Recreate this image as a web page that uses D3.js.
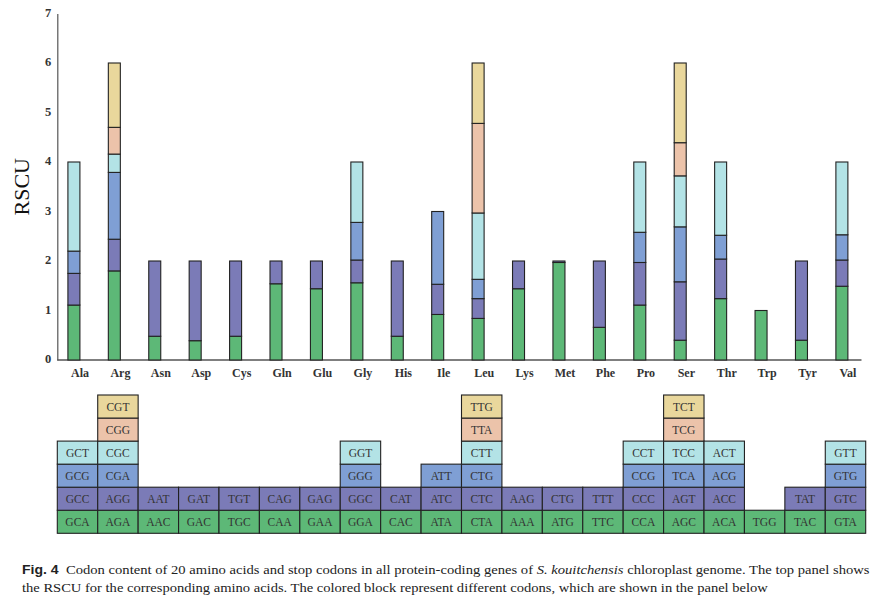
<!DOCTYPE html>
<html>
<head>
<meta charset="utf-8">
<script src="https://cdn.jsdelivr.net/npm/d3@7"></script>
<style>
  html, body { margin: 0; padding: 0; background: #fff; }
  svg { display: block; }
</style>
</head>
<body>
<svg id="chart" width="879" height="603"></svg>
<script>
// ---------- DATA ----------
const aminoAcids = ["Ala","Arg","Asn","Asp","Cys","Gln","Glu","Gly","His","Ile",
                    "Leu","Lys","Met","Phe","Pro","Ser","Thr","Trp","Tyr","Val"];

// codons per amino acid, stacked from the bottom up
const codons = [
  ["GCA","GCC","GCG","GCT"],
  ["AGA","AGG","CGA","CGC","CGG","CGT"],
  ["AAC","AAT"],
  ["GAC","GAT"],
  ["TGC","TGT"],
  ["CAA","CAG"],
  ["GAA","GAG"],
  ["GGA","GGC","GGG","GGT"],
  ["CAC","CAT"],
  ["ATA","ATC","ATT"],
  ["CTA","CTC","CTG","CTT","TTA","TTG"],
  ["AAA","AAG"],
  ["ATG","CTG"],
  ["TTC","TTT"],
  ["CCA","CCC","CCG","CCT"],
  ["AGC","AGT","TCA","TCC","TCG","TCT"],
  ["ACA","ACC","ACG","ACT"],
  ["TGG"],
  ["TAC","TAT"],
  ["GTA","GTC","GTG","GTT"]
];

// RSCU values, same order as codons
const rscu = [
  [1.11,0.64,0.45,1.80],
  [1.80,0.64,1.35,0.37,0.54,1.30],
  [0.48,1.52],
  [0.39,1.61],
  [0.48,1.52],
  [1.54,0.46],
  [1.44,0.56],
  [1.56,0.46,0.76,1.22],
  [0.48,1.52],
  [0.92,0.61,1.47],
  [0.84,0.40,0.39,1.34,1.81,1.22],
  [1.44,0.56],
  [1.97,0.03],
  [0.66,1.34],
  [1.11,0.86,0.61,1.42],
  [0.40,1.18,1.11,1.03,0.67,1.61],
  [1.24,0.80,0.48,1.48],
  [1.00],
  [0.40,1.60],
  [1.49,0.53,0.51,1.47]
];

const yTicks = [0,1,2,3,4,5,6,7];
const stackColors = ["#5db877","#7b7bb7","#7f9fd4","#b3e3e6","#ecc3aa","#e9d79c"];

const captionBold = "Fig. 4";
const captionLine1a = "  Codon content of 20 amino acids and stop codons in all protein-coding genes of ";
const captionItalic = "S. kouitchensis";
const captionLine1b = " chloroplast genome. The top panel shows";
const captionLine2 = "the RSCU for the corresponding amino acids. The colored block represent different codons, which are shown in the panel below";

// ---------- LAYOUT ----------
const svg = d3.select("#chart");
const serif = "Liberation Serif, Times New Roman, DejaVu Serif, serif";

const x = d3.scaleBand().domain(aminoAcids).range([57.3, 865.7]).padding(0);
const y = d3.scaleLinear().domain([0, 7]).range([360, 13.5]);
const barW = 12;
const barShift = -3.6;   // bars sit slightly left of column centre
const labelShift = 2.5;  // labels slightly right

// stacked data
const segs = [];
aminoAcids.forEach((aa, i) => {
  let acc = 0;
  rscu[i].forEach((v, j) => {
    segs.push({aa, codon: codons[i][j], idx: j, y0: acc, y1: acc + v});
    acc += v;
  });
});

// ---------- TOP PANEL ----------
const yAxis = d3.axisLeft(y).tickValues(yTicks).tickFormat(d3.format("d"))
  .tickSize(0).tickPadding(6).tickSizeOuter(0);
const gy = svg.append("g").attr("transform", `translate(${x.range()[0]},0)`).call(yAxis)
  .attr("font-family", serif);
gy.select(".domain").attr("stroke", "#555").attr("stroke-width", 1.2);
gy.selectAll("text").attr("font-family", serif).attr("font-size", 12.5)
  .attr("font-weight", "bold").attr("fill", "#333").attr("dy", "0.2em");

// x axis line
const xEnd = x("Val") + x.bandwidth() / 2 + 16;
svg.append("line")
  .attr("x1", x.range()[0]).attr("x2", xEnd)
  .attr("y1", y(0)).attr("y2", y(0))
  .attr("stroke", "#555").attr("stroke-width", 1.4);

svg.append("g").selectAll("rect").data(segs).join("rect")
  .attr("x", d => x(d.aa) + x.bandwidth() / 2 + barShift - barW / 2)
  .attr("width", barW)
  .attr("y", d => y(d.y1))
  .attr("height", d => y(d.y0) - y(d.y1))
  .attr("fill", d => stackColors[d.idx])
  .attr("stroke", "#222")
  .attr("stroke-width", 1.1);

// x labels
svg.append("g").selectAll("text").data(aminoAcids).join("text")
  .attr("x", d => x(d) + x.bandwidth() / 2 + labelShift)
  .attr("y", 377)
  .attr("text-anchor", "middle")
  .attr("font-family", serif)
  .attr("font-size", 12)
  .attr("font-weight", "bold")
  .attr("fill", "#333")
  .text(d => d);

// y title
svg.append("text")
  .attr("transform", `translate(29,${y(3.5)}) rotate(-90)`)
  .attr("text-anchor", "middle")
  .attr("font-family", serif)
  .attr("font-size", 22)
  .attr("fill", "#111")
  .text("RSCU");

// ---------- BOTTOM PANEL ----------
const rowY = d3.scaleLinear().domain([0, 6]).range([533.3, 395]);
const cells = svg.append("g").selectAll("g").data(segs).join("g");
cells.append("rect")
  .attr("x", d => x(d.aa))
  .attr("width", x.bandwidth())
  .attr("y", d => rowY(d.idx + 1))
  .attr("height", d => rowY(d.idx) - rowY(d.idx + 1))
  .attr("fill", d => stackColors[d.idx])
  .attr("stroke", "#222")
  .attr("stroke-width", 1.1);
cells.append("text")
  .attr("x", d => x(d.aa) + x.bandwidth() / 2)
  .attr("y", d => (rowY(d.idx) + rowY(d.idx + 1)) / 2)
  .attr("dy", "0.35em")
  .attr("text-anchor", "middle")
  .attr("font-family", serif)
  .attr("font-size", 11.5)
  .attr("fill", "#333")
  .text(d => d.codon);

// ---------- CAPTION ----------
function fitLine(sel, width) {
  const w = sel.node().getComputedTextLength();
  const yy = +sel.attr("data-y");
  sel.attr("transform", `translate(22,${yy}) scale(${width / w},1)`);
}
const l1 = svg.append("text").attr("data-y", 574).attr("x", 0).attr("y", 0)
  .attr("font-family", serif).attr("font-size", 12.5).attr("fill", "#222")
  .style("white-space", "pre");
l1.append("tspan").attr("font-family", "Liberation Sans, Arial, DejaVu Sans, sans-serif")
  .attr("font-weight", "bold").attr("font-size", 12).text(captionBold);
l1.append("tspan").text(captionLine1a);
l1.append("tspan").attr("font-style", "italic").text(captionItalic);
l1.append("tspan").text(captionLine1b);
fitLine(l1, 848);

const l2 = svg.append("text").attr("data-y", 592).attr("x", 0).attr("y", 0)
  .attr("font-family", serif).attr("font-size", 12.5).attr("fill", "#222")
  .text(captionLine2);
fitLine(l2, 747);
</script>
</body>
</html>
